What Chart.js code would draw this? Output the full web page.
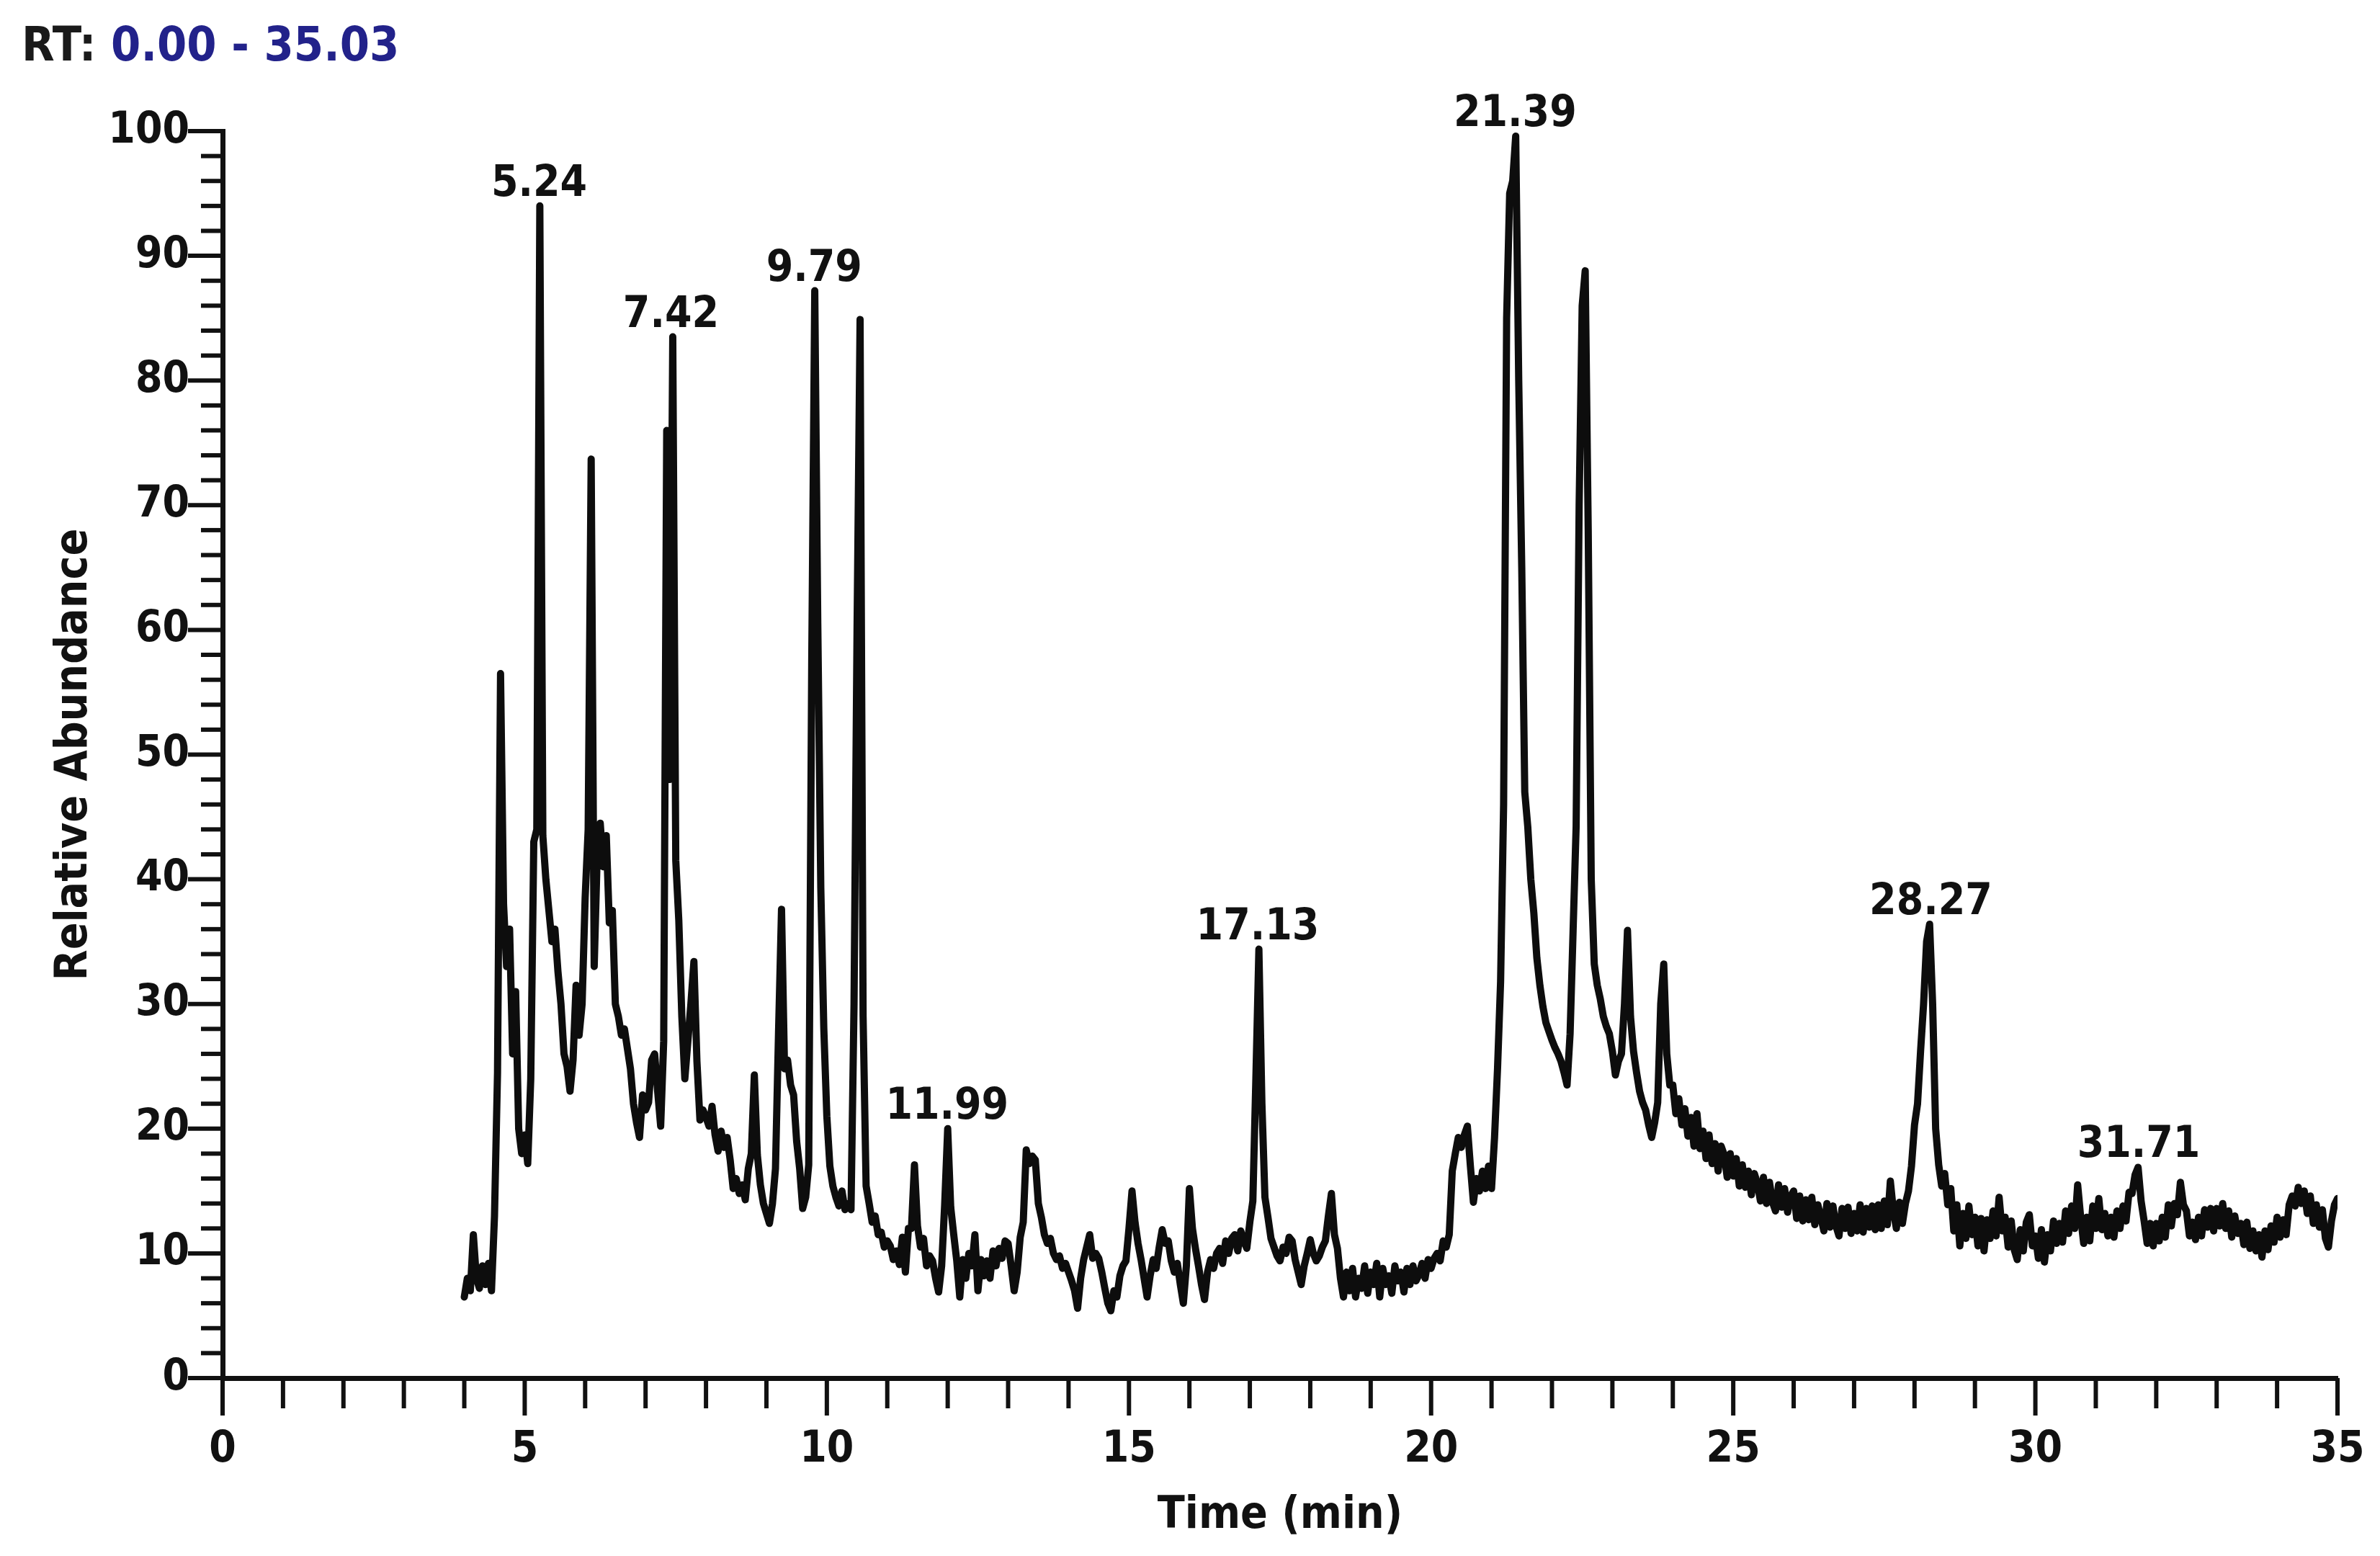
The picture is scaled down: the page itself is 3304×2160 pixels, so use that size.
<!DOCTYPE html>
<html>
<head>
<meta charset="utf-8">
<script src="https://cdn.jsdelivr.net/npm/chart.js@4.4.1/dist/chart.umd.min.js"></script>
<style>
  html, body { margin: 0; padding: 0; background: #ffffff; }
  #wrap { width: 3304px; height: 2160px; position: relative; background: #ffffff; }
  canvas { display: block; }
</style>
</head>
<body>
<div id="wrap"><canvas id="c" width="3304" height="2160"></canvas></div>
<script>
// ---------------- DATA ----------------
const titlePrefix = 'RT:';
const titleRange = '0.00 - 35.03';
const xAxisTitle = 'Time (min)';
const yAxisTitle = 'Relative Abundance';
const xTickLabels = [0, 5, 10, 15, 20, 25, 30, 35];
const yTickLabels = [0, 10, 20, 30, 40, 50, 60, 70, 80, 90, 100];
const scanStep = 0.05;               // minutes between scans
const scanMinutes = [4, 5, 6, 7, 8, 9, 10, 11, 12, 13, 14, 15, 16, 17, 18, 19,
                     20, 21, 22, 23, 24, 25, 26, 27, 28, 29, 30, 31, 32, 33, 34];
// relative abundance, one row per minute (20 scans each)
const abundanceRows = [
  [6.5, 8, 7, 11.5, 8, 7.2, 9, 7.5, 9.2, 7, 13, 24.5, 56.5, 38, 33, 36, 26, 31, 20, 18],
  [19.5, 17.2, 24, 43, 44, 94, 43.5, 40, 37.5, 35, 36, 32.6, 30, 26, 25, 23, 25.5, 31.5, 27.5, 30],
  [38.5, 44, 73.7, 33, 42, 44.5, 41, 43.5, 36.5, 37.5, 30, 29, 27.5, 28, 26.4, 24.8, 22, 20.5, 19.3, 22.7],
  [21.5, 22.1, 25.5, 26, 23, 20.2, 27, 76, 48, 83.5, 41.5, 36.7, 29, 24, 27, 30, 33.4, 25.4, 20.7, 21.5],
  [20.9, 20.2, 21.8, 19.5, 18.2, 19.8, 18.5, 19.3, 17.5, 15.2, 16, 14.8, 15.5, 14.3, 16.8, 18, 24.3, 17.9, 15.5, 14],
  [13.2, 12.4, 14, 16.8, 27.6, 37.6, 24.8, 25.5, 23.5, 22.7, 19, 16.8, 13.6, 14.5, 17.1, 57.5, 87.2, 60.5, 39.3, 28],
  [21, 17, 15.4, 14.5, 13.8, 15, 13.5, 14, 13.5, 30, 60, 84.9, 29, 15.4, 14, 12.5, 13, 11.5, 11.7, 10.5],
  [11, 10.6, 9.5, 10.2, 9.1, 11.3, 8.5, 12, 12, 17.1, 12.2, 10.5, 11.2, 9, 9.8, 9.4, 8, 6.9, 9, 13.9],
  [20, 13.7, 11.5, 9.4, 6.5, 9.5, 8, 10, 9, 11.5, 7, 9.5, 8.2, 9.4, 8, 10.2, 9, 10.4, 9.6, 11],
  [10.8, 9, 7, 8.5, 11.3, 12.5, 18.3, 17.2, 17.8, 17.5, 14, 12.9, 11.5, 10.8, 11.2, 10, 9.5, 9.8, 8.8, 9.2],
  [8.5, 7.8, 7, 5.6, 8, 9.5, 10.5, 11.5, 9.6, 10, 9.6, 8.5, 7.2, 6, 5.4, 7, 6.5, 8.2, 9, 9.4],
  [12, 15, 12.5, 10.8, 9.5, 8, 6.5, 8.2, 9.5, 8.8, 10.5, 11.9, 10.8, 11, 9.4, 8.5, 9.2, 7.5, 6, 9],
  [15.2, 12, 10.4, 9, 7.5, 6.3, 8.5, 9.5, 8.8, 10, 10.4, 9.2, 11, 10, 11.2, 11.5, 10.2, 11.8, 11, 10.4],
  [12.5, 14.2, 24, 34.4, 22, 14.5, 12.9, 11.2, 10.5, 9.8, 9.4, 10.5, 10, 11.3, 11, 9.5, 8.5, 7.5, 9, 10],
  [11.1, 10, 9.4, 9.8, 10.5, 11, 13, 14.8, 11.5, 10.4, 8, 6.5, 8.5, 7, 8.8, 6.5, 8, 7.2, 9, 6.8],
  [8.5, 7.5, 9.2, 6.5, 8.8, 7.5, 8.2, 6.8, 9, 7.8, 8.5, 6.9, 8.8, 7.5, 9, 7.8, 8.3, 9.2, 8, 9.5],
  [8.8, 9.6, 10, 9.4, 11, 10.5, 11.5, 16.6, 18, 19.3, 18.5, 19.5, 20.2, 17, 14.1, 16, 15, 16.6, 15.2, 17],
  [15.2, 19.3, 24.9, 31.8, 46, 85, 95, 96, 99.6, 80, 65, 47, 44.2, 40, 37.3, 33.7, 31.5, 29.8, 28.5, 27.8],
  [27.1, 26.5, 26, 25.4, 24.5, 23.5, 27.6, 35.9, 44.2, 70, 86, 88.8, 68, 40, 33.2, 31.5, 30.4, 29, 28.2, 27.6],
  [26.2, 24.3, 25.4, 26, 30, 35.9, 29, 26.2, 24.5, 23, 22.1, 21.5, 20.3, 19.3, 20.5, 22.1, 30, 33.2, 26, 23.5],
  [23.5, 21.2, 22.4, 20.3, 21.6, 19.4, 20.9, 18.6, 21.2, 18.4, 19.8, 17.6, 19.5, 17.2, 18.8, 16.6, 18.6, 17.9, 16.1, 18],
  [16.2, 17.6, 15.4, 17.1, 15.3, 16.6, 14.7, 16.4, 15.6, 14.2, 16.1, 14, 15.7, 14.1, 13.4, 15.5, 13.7, 15.2, 13.3, 14.6],
  [15, 12.8, 14.6, 12.6, 14.3, 12.7, 14.5, 12.3, 13.9, 12.9, 11.8, 14, 12.1, 13.8, 12.2, 11.4, 13.6, 12, 13.7, 11.6],
  [13.2, 11.8, 13.9, 11.7, 13.6, 12.1, 13.8, 11.9, 13.9, 12, 14.2, 12.3, 15.8, 13.4, 12, 14.1, 12.4, 14, 15, 17],
  [20.3, 22, 26.2, 30, 35, 36.4, 30, 20, 17.1, 15.4, 16.4, 13.9, 15.2, 11.8, 13.9, 10.6, 13.2, 11.2, 13.8, 11.5],
  [12.9, 10.6, 12.8, 10.2, 12.7, 11.2, 13.4, 11.4, 14.5, 11.8, 12.9, 10.5, 12.6, 10.3, 9.5, 11.9, 10.2, 12.5, 13.1, 10.6],
  [11.4, 9.6, 11.9, 9.3, 11.5, 10.2, 12.6, 10.8, 12.4, 10.9, 13.4, 11.6, 13.8, 12, 15.5, 12.9, 10.8, 12.9, 11, 13.8],
  [12, 14.4, 11.9, 13.2, 11.4, 12.9, 11.3, 13.4, 12, 13.8, 12.6, 14.9, 14.8, 16.3, 16.9, 14.2, 12.6, 10.8, 12.4, 10.6],
  [12.4, 11, 12.9, 11.3, 13.9, 12.2, 14, 13.1, 15.7, 13.9, 13.4, 11.4, 12.5, 11.1, 12.9, 11.4, 13.5, 12.1, 13.6, 11.8],
  [13.6, 12.2, 14, 12, 13.4, 11.3, 13, 11.6, 12.4, 10.7, 12.5, 10.4, 11.8, 10.2, 11.5, 9.7, 11.8, 10.3, 12.2, 10.9],
  [12.9, 11.3, 12.7, 11.5, 13.9, 14.6, 13.8, 15.3, 14, 15, 13.2, 14.6, 12.4, 13.9, 12.1, 13.5, 11.2, 10.5, 12.6, 13.9]
];
const finalScan = { time: 35.0, value: 14.4 };
const peakLabelTimes = [5.24, 7.42, 9.79, 11.99, 17.13, 21.39, 28.27, 31.71];

// ---------------- BUILD ----------------
const points = [];
scanMinutes.forEach((m, r) => {
  abundanceRows[r].forEach((v, j) => {
    points.push({ x: +(m + j * scanStep).toFixed(2), y: v });
  });
});
points.push({ x: finalScan.time, y: finalScan.value });

const FONT_FAMILY = "'DejaVu Sans Condensed', 'DejaVu Sans', sans-serif";
const INK = '#111111';

const decorPlugin = {
  id: 'decor',
  afterDraw(chart) {
    const { ctx, chartArea, scales } = chart;
    const xs = scales.x, ys = scales.y;
    ctx.save();
    // tick marks
    ctx.strokeStyle = INK;
    ctx.lineWidth = 6;
    ctx.lineCap = 'butt';
    const axisY = chartArea.bottom;
    for (let v = xs.min; v <= xs.max + 1e-9; v += 1) {
      const px = xs.getPixelForValue(v);
      const len = (Math.round(v) % 5 === 0) ? 52 : 42;
      ctx.beginPath(); ctx.moveTo(px, axisY); ctx.lineTo(px, axisY + len); ctx.stroke();
    }
    const axisX = chartArea.left;
    for (let v = ys.min; v <= ys.max + 1e-9; v += 2) {
      const py = ys.getPixelForValue(v);
      const len = (Math.round(v) % 10 === 0) ? 48 : 30;
      ctx.beginPath(); ctx.moveTo(axisX, py); ctx.lineTo(axisX - len, py); ctx.stroke();
    }
    // peak labels
    ctx.fillStyle = INK;
    ctx.font = 'bold 60px ' + FONT_FAMILY;
    ctx.textAlign = 'center';
    ctx.textBaseline = 'alphabetic';
    peakLabelTimes.forEach(t => {
      let top = -Infinity;
      points.forEach(p => { if (Math.abs(p.x - t) <= 0.06 && p.y > top) top = p.y; });
      const px = xs.getPixelForValue(t);
      const py = ys.getPixelForValue(top);
      ctx.fillText(t.toFixed(2), px, py - 14);
    });
    // header
    ctx.textAlign = 'left';
    ctx.font = 'bold 66px ' + FONT_FAMILY;
    ctx.fillStyle = '#1a1a1a';
    const x0 = 30, base = 84;
    ctx.fillText(titlePrefix + ' ', x0, base);
    const w = ctx.measureText(titlePrefix + ' ').width;
    ctx.fillStyle = '#22228a';
    ctx.fillText(titleRange, x0 + w, base);
    ctx.restore();
  }
};

new Chart(document.getElementById('c'), {
  type: 'line',
  data: {
    datasets: [{
      data: points,
      borderColor: '#0d0d0d',
      borderWidth: 10,
      pointRadius: 0,
      tension: 0,
      fill: false,
      borderJoinStyle: 'round',
      borderCapStyle: 'round'
    }]
  },
  options: {
    responsive: false,
    animation: false,
    devicePixelRatio: 1,
    layout: { padding: { left: 0, right: 59, top: 182, bottom: 0 } },
    plugins: { legend: { display: false }, tooltip: { enabled: false }, title: { display: false } },
    scales: {
      x: {
        type: 'linear',
        min: 0, max: 35,
        afterBuildTicks(scale) { scale.ticks = xTickLabels.map(v => ({ value: v })); },
        afterFit(scale) { scale.height = 247; },
        ticks: { color: INK, padding: 12, maxRotation: 0, autoSkip: false,
                 font: { family: FONT_FAMILY, size: 60, weight: 'bold' } },
        grid: { display: true, drawOnChartArea: false, drawTicks: true, tickLength: 52, color: 'rgba(0,0,0,0)' },
        border: { display: true, color: INK, width: 7 },
        title: { display: true, text: xAxisTitle, color: INK,
                 font: { family: FONT_FAMILY, size: 62, weight: 'bold' }, padding: { top: 0, bottom: 18 } }
      },
      y: {
        type: 'linear',
        min: 0, max: 100,
        afterBuildTicks(scale) { scale.ticks = yTickLabels.map(v => ({ value: v })); },
        afterFit(scale) { scale.width = 309; },
        ticks: { color: INK, padding: 0, autoSkip: false,
                 font: { family: FONT_FAMILY, size: 60, weight: 'bold' } },
        grid: { display: true, drawOnChartArea: false, drawTicks: true, tickLength: 46, color: 'rgba(0,0,0,0)' },
        border: { display: true, color: INK, width: 7 },
        title: { display: true, text: yAxisTitle, color: INK,
                 font: { family: FONT_FAMILY, size: 62, weight: 'bold' }, padding: { top: 67, bottom: 0 } }
      }
    }
  },
  plugins: [decorPlugin]
});
</script>
</body>
</html>
